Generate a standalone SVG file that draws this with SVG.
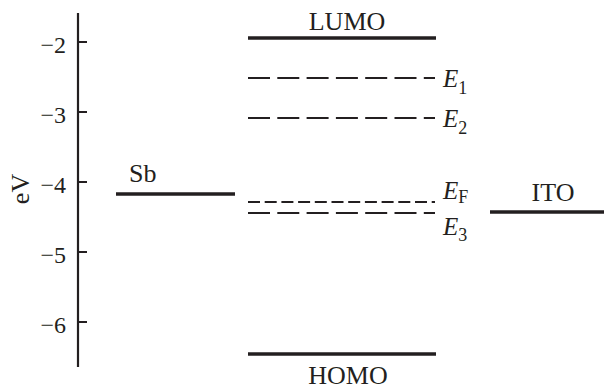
<svg xmlns="http://www.w3.org/2000/svg" width="604" height="390" viewBox="0 0 604 390">
<style>
text{font-family:"Liberation Serif","Times New Roman",serif;font-size:26px;fill:#231f20}
.lvl{stroke:#231f20;stroke-width:3.6;fill:none}
.ax{stroke:#231f20;stroke-width:2.2;fill:none}
.dl{stroke:#231f20;stroke-width:2;fill:none;stroke-dasharray:22 7.3}
.ds{stroke:#231f20;stroke-width:2;fill:none;stroke-dasharray:12 4.7}
.tk{text-anchor:end;font-size:24px}
.mid{text-anchor:middle}
.en{font-style:italic;font-size:25px}
.sub{font-style:normal;font-size:18px}
</style>
<rect width="604" height="390" fill="#fff"/>
<g id="axis">
<path class="ax" d="M78 13V367M78 42H87M78 112H87M78 182H87M78 252H87M78 322H87"/>
<text class="tk" x="66" y="53">−2</text>
<text class="tk" x="66" y="123">−3</text>
<text class="tk" x="66" y="193">−4</text>
<text class="tk" x="66" y="263">−5</text>
<text class="tk" x="66" y="333">−6</text>
<text transform="translate(29 189) rotate(-90)" class="mid">eV</text>
</g>
<g id="sb">
<line class="lvl" x1="116" y1="194" x2="235" y2="194"/>
<text x="129" y="182" font-size="24">Sb</text>
</g>
<g id="lumo">
<line class="lvl" x1="248" y1="38" x2="436" y2="38"/>
<text class="mid" x="347" y="30">LUMO</text>
</g>
<g id="e1">
<line class="dl" x1="248" y1="78" x2="435" y2="78"/>
<text class="en" x="443" y="87">E<tspan class="sub" dy="7">1</tspan></text>
</g>
<g id="e2">
<line class="dl" x1="248" y1="118" x2="435" y2="118"/>
<text class="en" x="443" y="127">E<tspan class="sub" dy="7">2</tspan></text>
</g>
<g id="ef">
<line class="ds" x1="248" y1="202" x2="435" y2="202"/>
<text class="en" x="443" y="199">E<tspan class="sub" dy="4">F</tspan></text>
</g>
<g id="e3">
<line class="dl" x1="248" y1="213" x2="435" y2="213"/>
<text class="en" x="443" y="235">E<tspan class="sub" dy="6">3</tspan></text>
</g>
<g id="homo">
<line class="lvl" x1="248" y1="354" x2="436" y2="354"/>
<text class="mid" x="348" y="384">HOMO</text>
</g>
<g id="ito">
<line class="lvl" x1="490" y1="212" x2="604" y2="212"/>
<text class="mid" x="553" y="201">ITO</text>
</g>
</svg>
